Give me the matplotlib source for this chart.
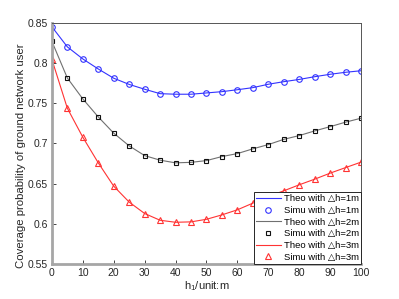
import matplotlib
matplotlib.use('Agg')
import matplotlib.pyplot as plt

# h1 in metres
h1 = [0, 5, 10, 15, 20, 25, 30, 35, 40, 45, 50, 55, 60, 65, 70, 75, 80, 85, 90, 95, 100]

# coverage probability
cov_dh1 = [0.845, 0.820, 0.805, 0.7925, 0.781, 0.7733, 0.7673, 0.7618, 0.7611, 0.7611, 0.7627,
           0.7643, 0.7667, 0.7693, 0.7735, 0.7767, 0.7795, 0.7829, 0.7859, 0.7884, 0.7903]
cov_dh2 = [0.8269, 0.7813, 0.7553, 0.7329, 0.7127, 0.6969, 0.6848, 0.6791, 0.6758, 0.6764, 0.6786,
           0.6836, 0.6873, 0.6932, 0.6985, 0.7050, 0.7097, 0.7155, 0.7208, 0.7264, 0.7313]
cov_dh3 = [0.8045, 0.7437, 0.7077, 0.6758, 0.6468, 0.6270, 0.6128, 0.6044, 0.6019, 0.6024, 0.6056,
           0.6111, 0.6174, 0.6257, 0.6339, 0.6410, 0.6485, 0.6555, 0.6630, 0.6699, 0.6767]

xticks = [0, 10, 20, 30, 40, 50, 60, 70, 80, 90, 100]
yticks = [0.55, 0.6, 0.65, 0.7, 0.75, 0.8, 0.85]
ytick_labels = ['0.55', '0.6', '0.65', '0.7', '0.75', '0.8', '0.85']

plt.rcParams['font.family'] = ['Liberation Sans', 'DejaVu Sans']

fig = plt.figure(figsize=(3.99, 2.99), dpi=100)
ax = fig.add_axes([0.130, 0.117, 0.775, 0.807])

blue = '#3333ff'
red = '#ff3333'

ax.plot(h1, cov_dh1, color=blue, lw=0.8, label='Theo with △h=1m')
ax.plot(h1, cov_dh1, ls='none', marker='o', ms=4, mfc='none', mec=blue, mew=0.8,
        label='Simu with △h=1m')
ax.plot(h1, cov_dh2, color='#707070', lw=0.8, label='Theo with △h=2m')
ax.plot(h1, cov_dh2, ls='none', marker='s', ms=3, mfc='none', mec='#111111', mew=0.8,
        label='Simu with △h=2m')
ax.plot(h1, cov_dh3, color=red, lw=0.8, label='Theo with △h=3m')
ax.plot(h1, cov_dh3, ls='none', marker='^', ms=4.5, mfc='none', mec=red, mew=0.8,
        label='Simu with △h=3m')

ax.set_xlim(0, 100)
ax.set_ylim(0.55, 0.85)
ax.set_xticks(xticks)
ax.set_yticks(yticks)
ax.set_yticklabels(ytick_labels)
ax.tick_params(direction='in', length=3, width=0.6, labelsize=7.5, colors='#262626', pad=3)

for side in ['top', 'right']:
    ax.spines[side].set_color('#555555')
    ax.spines[side].set_linewidth(0.7)
for side in ['left', 'bottom']:
    ax.spines[side].set_color('#a6a6a6')
    ax.spines[side].set_linewidth(2.0)

ax.set_xlabel('$\\mathregular{h_1}$/unit:m', fontsize=8, color='#262626', labelpad=1)
ax.set_ylabel('Coverage probability of ground network user', fontsize=8.2, color='#262626', labelpad=7)
ax.yaxis.set_label_coords(-0.085, 0.45)

leg = ax.legend(loc='lower right', fontsize=6.8, borderaxespad=0, fancybox=False,
                framealpha=1, edgecolor='#262626', handlelength=2.6, handletextpad=0.3,
                borderpad=0.25, labelspacing=0.28)
leg.get_frame().set_linewidth(0.7)

fig.savefig('out.png', dpi=100)
